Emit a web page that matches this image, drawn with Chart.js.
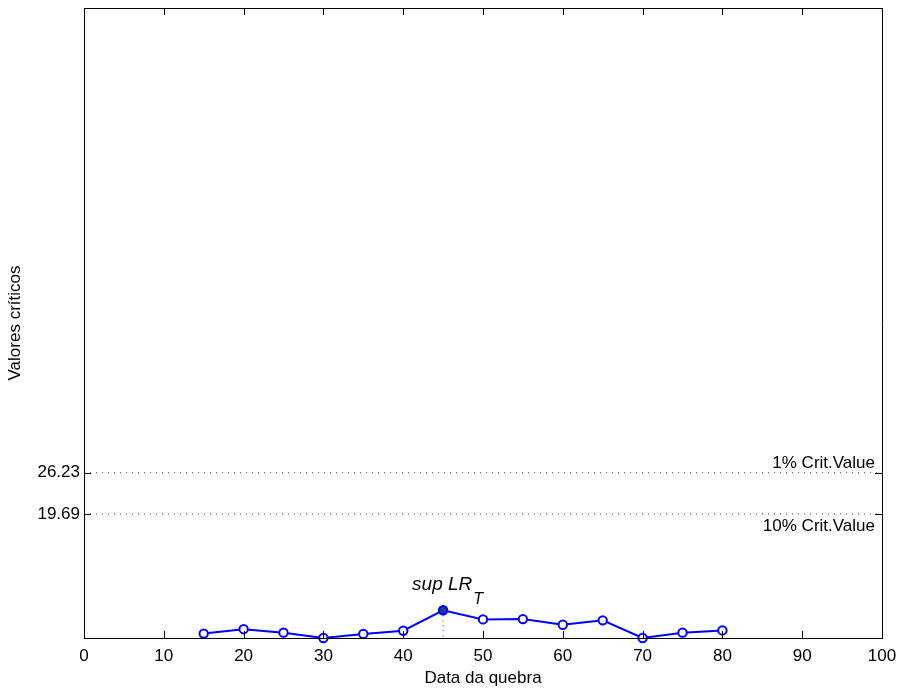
<!DOCTYPE html>
<html>
<head>
<meta charset="utf-8">
<script src="https://cdn.jsdelivr.net/npm/chart.js@4.4.1/dist/chart.umd.min.js"></script>
<style>
    html, body { margin: 0; padding: 0; background: #fff; }
    #wrap { width: 899px; height: 691px; }
</style>
</head>
<body>
<div id="wrap"><canvas id="lrChart" width="899" height="691"></canvas></div>
<script>
// Dados do gráfico
const breakDates = [15, 20, 25, 30, 35, 40, 45, 50, 55, 60, 65, 70, 75, 80];
const lrValues = [0.7, 1.4, 0.85, 0.0, 0.65, 1.15, 4.4, 2.95, 3.0, 2.1, 2.8, 0.0, 0.85, 1.2];
const critValues = [19.69, 26.23];
const critLabels = ['10% Crit.Value', '1% Crit.Value'];
const xTicks = [0, 10, 20, 30, 40, 50, 60, 70, 80, 90, 100];

const FONT = "'Liberation Sans', Arial, Helvetica, sans-serif";
const FS = 17;

// ponto máximo (sup LR_T)
const supIdx = lrValues.indexOf(Math.max(...lrValues));

const pointFill = lrValues.map((v, i) => i === supIdx ? '#1c3b99' : '#ffffff');

// Linhas pontilhadas dos valores críticos
const critDatasets = critValues.map(v => ({
    type: 'line',
    data: [{ x: xTicks[0], y: v }, { x: xTicks[xTicks.length - 1], y: v }],
    borderColor: '#444',
    borderWidth: 1,
    borderDash: [1, 5],
    pointRadius: 0,
    fill: false,
    clip: false,
    order: 2
}));

// Moldura e marcas internas (estilo MATLAB)
const boxPlugin = {
    id: 'boxPlugin',
    afterDatasetsDraw(chart) {
        const { ctx, chartArea: a, scales: { x, y } } = chart;
        ctx.save();
        ctx.strokeStyle = '#000';
        ctx.lineWidth = 1;
        ctx.beginPath();
        ctx.rect(Math.round(a.left) + 0.5, Math.round(a.top) + 0.5,
            Math.round(a.right - a.left), Math.round(a.bottom - a.top));
        ctx.stroke();

        const tl = 7;
        ctx.beginPath();
        xTicks.forEach(t => {
            const px = Math.round(x.getPixelForValue(t)) + 0.5;
            ctx.moveTo(px, a.bottom); ctx.lineTo(px, a.bottom - tl);
            ctx.moveTo(px, a.top); ctx.lineTo(px, a.top + tl);
        });
        critValues.forEach(v => {
            const py = Math.round(y.getPixelForValue(v)) + 0.5;
            ctx.moveTo(a.left, py); ctx.lineTo(a.left + tl, py);
            ctx.moveTo(a.right, py); ctx.lineTo(a.right - tl, py);
        });
        ctx.stroke();

        // Rótulos dos valores críticos
        ctx.fillStyle = '#000';
        ctx.font = FS + 'px ' + FONT;
        ctx.textAlign = 'right';
        ctx.textBaseline = 'alphabetic';
        const y1 = y.getPixelForValue(critValues[1]);
        const y10 = y.getPixelForValue(critValues[0]);
        ctx.fillText(critLabels[1], a.right - 7, y1 - 5);
        ctx.fillText(critLabels[0], a.right - 7, y10 + 17);

        // sup LR_T
        const sx = x.getPixelForValue(breakDates[supIdx]);
        const sy = y.getPixelForValue(lrValues[supIdx]);
        ctx.textAlign = 'left';
        ctx.font = 'italic 19px ' + FONT;
        const main = 'sup LR';
        ctx.fillText(main, sx - 31, sy - 20);
        const w = ctx.measureText(main).width;
        ctx.font = 'italic 16px ' + FONT;
        ctx.fillText('T', sx - 31 + w + 1, sy - 6);
        ctx.restore();
    }
};

new Chart(document.getElementById('lrChart'), {
    type: 'line',
    data: {
        datasets: [
            {
                data: breakDates.map((d, i) => ({ x: d, y: lrValues[i] })),
                borderColor: '#0000ff',
                borderWidth: 2,
                pointRadius: 4.2,
                pointBorderWidth: 2,
                pointBorderColor: '#0000ff',
                pointBackgroundColor: pointFill,
                fill: false,
                tension: 0,
                clip: false,
                order: 0
            },
            {
                data: [{ x: breakDates[supIdx], y: lrValues[supIdx] }, { x: breakDates[supIdx], y: 0 }],
                borderColor: '#444',
                borderWidth: 1,
                borderDash: [1, 4],
                pointRadius: 0,
                fill: false,
                clip: false,
                order: 1
            },
            ...critDatasets
        ]
    },
    options: {
        responsive: false,
        animation: false,
        layout: { padding: { top: 8, right: 17, left: 0, bottom: 0 } },
        plugins: {
            legend: { display: false },
            tooltip: { enabled: false }
        },
        scales: {
            x: {
                type: 'linear',
                min: 0,
                max: 100,
                afterBuildTicks: (scale) => { scale.ticks = xTicks.map(v => ({ value: v })); },
                afterFit: (scale) => {
                    scale.height = 53;
                    scale.paddingLeft = 0;
                    scale.paddingRight = 0;
                },
                grid: { display: false, drawTicks: false },
                border: { display: true, color: '#000', width: 1 },
                ticks: {
                    color: '#000',
                    padding: 8,
                    maxRotation: 0,
                    font: { family: FONT, size: FS }
                },
                title: {
                    display: true,
                    text: 'Data da quebra',
                    color: '#000',
                    font: { family: FONT, size: FS },
                    padding: { top: 0, bottom: 2 }
                }
            },
            y: {
                type: 'linear',
                min: 0,
                max: 100,
                afterBuildTicks: (scale) => { scale.ticks = critValues.map(v => ({ value: v })); },
                afterFit: (scale) => {
                    scale.width = 84;
                    scale.paddingTop = 0;
                    scale.paddingBottom = 0;
                },
                grid: { display: false, drawTicks: false },
                border: { display: true, color: '#000', width: 1 },
                ticks: {
                    color: '#000',
                    padding: 4,
                    font: { family: FONT, size: FS },
                    callback: (v) => Number(v).toFixed(2)
                },
                title: {
                    display: true,
                    text: 'Valores críticos',
                    color: '#000',
                    font: { family: FONT, size: FS },
                    padding: { top: 5, bottom: 0 }
                }
            }
        }
    },
    plugins: [boxPlugin]
});
</script>
</body>
</html>
